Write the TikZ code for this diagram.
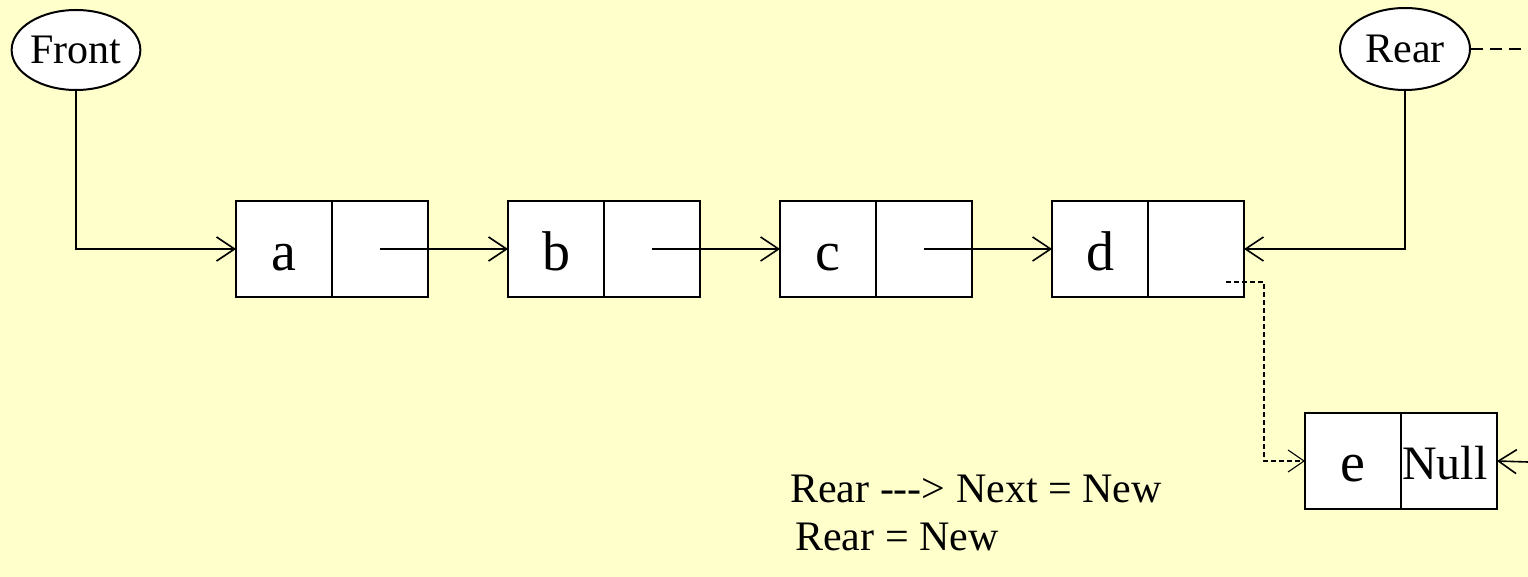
\documentclass[tikz,border=0pt]{standalone}
\usepackage{fontspec}
\setmainfont{Liberation Serif}
\usepackage{tikz}
\usetikzlibrary{arrows.meta,positioning,shapes.geometric}
\definecolor{SlideYellow}{RGB}{255, 255, 204}
\tikzset{
  cell/.style={draw, fill=white, line width=1.5pt, minimum width=96pt,
               minimum height=96pt, inner sep=0pt, outer sep=0pt,
               text height=48pt, text depth=4pt,
               font=\fontsize{56}{56}\selectfont},
  ptrname/.style={draw, ellipse, fill=white, line width=2pt, inner sep=0pt,
                  font=\fontsize{42}{42}\selectfont},
  link/.style={line width=1.6pt, -{Straight Barb[length=18pt,width=24pt,line width=1.6pt]}},
  newlink/.style={line width=1.1pt, dash pattern=on 5pt off 3pt,
                  -{Straight Barb[length=16pt,width=22pt,line width=1.1pt]}},
}
% one list node: data cell and pointer cell side by side
\newcommand{\ListNode}[4]{%
  \node[cell] (#1-data) at (#2,#3) {#4};
  \node[cell, right=0pt of #1-data] (#1-ptr) {};
}

\begin{document}
\begin{tikzpicture}[x=1pt,y=-1pt]
      \useasboundingbox (0,0) rectangle (1528,577);
      \fill[SlideYellow] (0,0) rectangle (1528,577);

      % the queue a -> b -> c -> d
      \ListNode{a}{284}{249}{a}
      \ListNode{b}{556}{249}{b}
      \ListNode{c}{828}{249}{c}
      \ListNode{d}{1100}{249}{d}
      % new node
      \node[cell, text height=44pt] (e-data) at (1353,461) {e};
      \node[cell, right=0pt of e-data, font=\fontsize{48}{48}\selectfont,
            text height=40pt, inner sep=1pt, anchor=west]
        (e-ptr) {\makebox[94pt][l]{Null}};

      \node[ptrname, minimum width=128pt, minimum height=80pt]
        (front) at (76,50) {Front};
      \node[ptrname, minimum width=130pt, minimum height=82pt]
        (rear) at (1405,49) {Rear};

      \draw[link] (front) |- (a-data.west);
      \draw[link] (a-ptr.center) -- (b-data.west);
      \draw[link] (b-ptr.center) -- (c-data.west);
      \draw[link] (c-ptr.center) -- (d-data.west);
      \draw[link] (rear) |- (d-ptr.east);

      % rear moves on to the new node
      \coordinate (rear-off) at (1528,47);
      \draw[line width=1.5pt, dash pattern=on 12pt off 7pt]
        (rear.east) -- (rear.east -| rear-off);
      \coordinate (null-in) at (1528,462);
      \draw[link] (null-in) -- (e-ptr.east);

      % d's next now points at e
      \coordinate (d-tail) at (1226,282);
      \draw[newlink] (d-tail) -- ++(38,0) |- (e-data.west);

      \node[anchor=base west, font=\fontsize{42}{42}\selectfont, inner sep=0pt]
        (step-one) at (790,502) {Rear {-}{-}{-}> Next = New};
      \node[anchor=base west, font=\fontsize{42}{42}\selectfont, inner sep=0pt]
        (step-two) at (795,550) {Rear = New};
    \end{tikzpicture}
\end{document}
